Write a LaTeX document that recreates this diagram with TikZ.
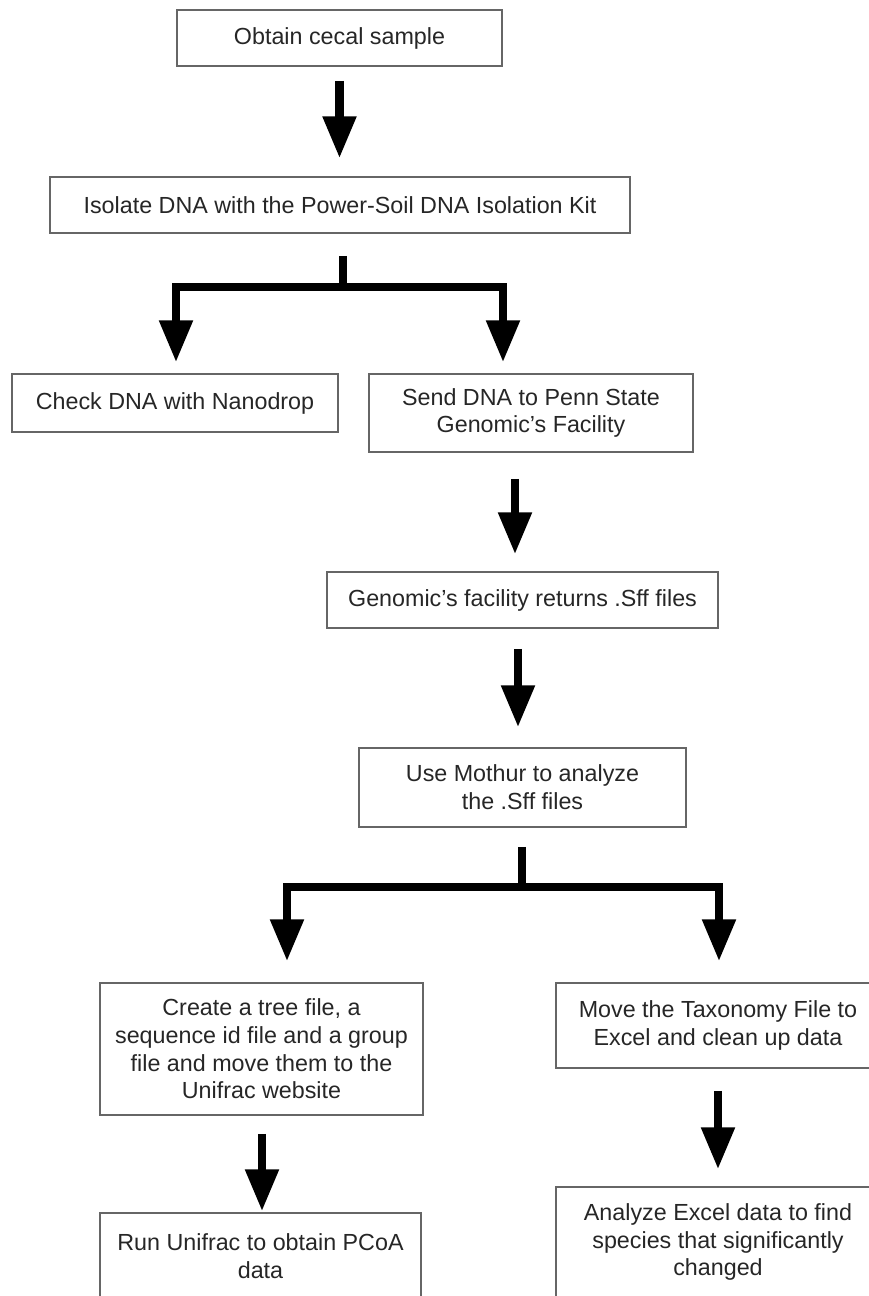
\documentclass[tikz,border=0pt]{standalone}
\usepackage{fontspec}
\setmainfont{Liberation Sans}
\usetikzlibrary{arrows.meta,calc}

\begin{document}
\begin{tikzpicture}
  [x=1pt,y=-1pt,
   every node/.style={draw=black!60,line width=1.5pt,align=center,inner sep=0pt,
     text=black!85,font=\fontsize{23.3}{27.7}\selectfont},
   arr/.style={line width=8.5pt,-{Triangle[width=32pt,length=42pt]}},
   fork/.style={line width=8.5pt}]
  \useasboundingbox (0,0) rectangle (869,1296);
  \node[minimum width=325pt,minimum height=56pt] (obtain) at (339.5,38) {Obtain cecal sample};
  \node[minimum width=580pt,minimum height=56pt] (isolate) at (340,205) {Isolate DNA with the Power-Soil DNA Isolation Kit};
  \node[minimum width=326pt,minimum height=58pt] (check) at (175,403) {Check DNA with Nanodrop};
  \node[minimum width=324pt,minimum height=78pt] (send) at (531,413) {Send DNA to Penn State\\Genomic's Facility};
  \node[minimum width=391pt,minimum height=56pt] (returns) at (522.5,600) {Genomic's facility returns .Sff files};
  \node[minimum width=327pt,minimum height=79pt] (mothur) at (522.5,787.5) {Use Mothur to analyze\\the .Sff files};
  \node[minimum width=323pt,minimum height=132pt] (tree) at (261.5,1049) {Create a tree file, a\\sequence id file and a group\\file and move them to the\\Unifrac website};
  \node[minimum width=324pt,minimum height=85pt] (taxonomy) at (718,1025.5) {Move the Taxonomy File to\\Excel and clean up data};
  \node[minimum width=321pt,minimum height=86pt] (unifrac) at (260.5,1256) {Run Unifrac to obtain PCoA\\data};
  \node[minimum width=324pt,minimum height=110pt] (analyze) at (718,1242) {Analyze Excel data to find\\species that significantly\\changed};
  \coordinate (fork1) at (343,287);
  \coordinate (fork2) at (522,887);

  \draw[arr] ($(obtain.south)+(0,14)$) -- ($(isolate.north)+(-0.5,-18)$);
  \draw[fork] ($(isolate.south)+(3,22)$) -- (fork1);
  \draw[arr] (fork1) -| ($(check.north)+(1,-11)$);
  \draw[arr] (fork1) -| ($(send.north)+(-28,-11)$);
  \draw[arr] ($(send.south)+(-16,26)$) -- ($(returns.north)+(-7.5,-17)$);
  \draw[arr] ($(returns.south)+(-4.5,20)$) -- ($(mothur.north)+(-4.5,-20)$);
  \draw[fork] ($(mothur.south)+(-0.5,19)$) -- (fork2);
  \draw[arr] (fork2) -| ($(tree.north)+(25.5,-21)$);
  \draw[arr] (fork2) -| ($(taxonomy.north)+(1,-21)$);
  \draw[arr] ($(tree.south)+(0.5,18)$) -- ($(unifrac.north)+(1.5,-1)$);
  \draw[arr] ($(taxonomy.south)+(0,22)$) -- ($(analyze.north)+(0,-17)$);
\end{tikzpicture}
\end{document}
